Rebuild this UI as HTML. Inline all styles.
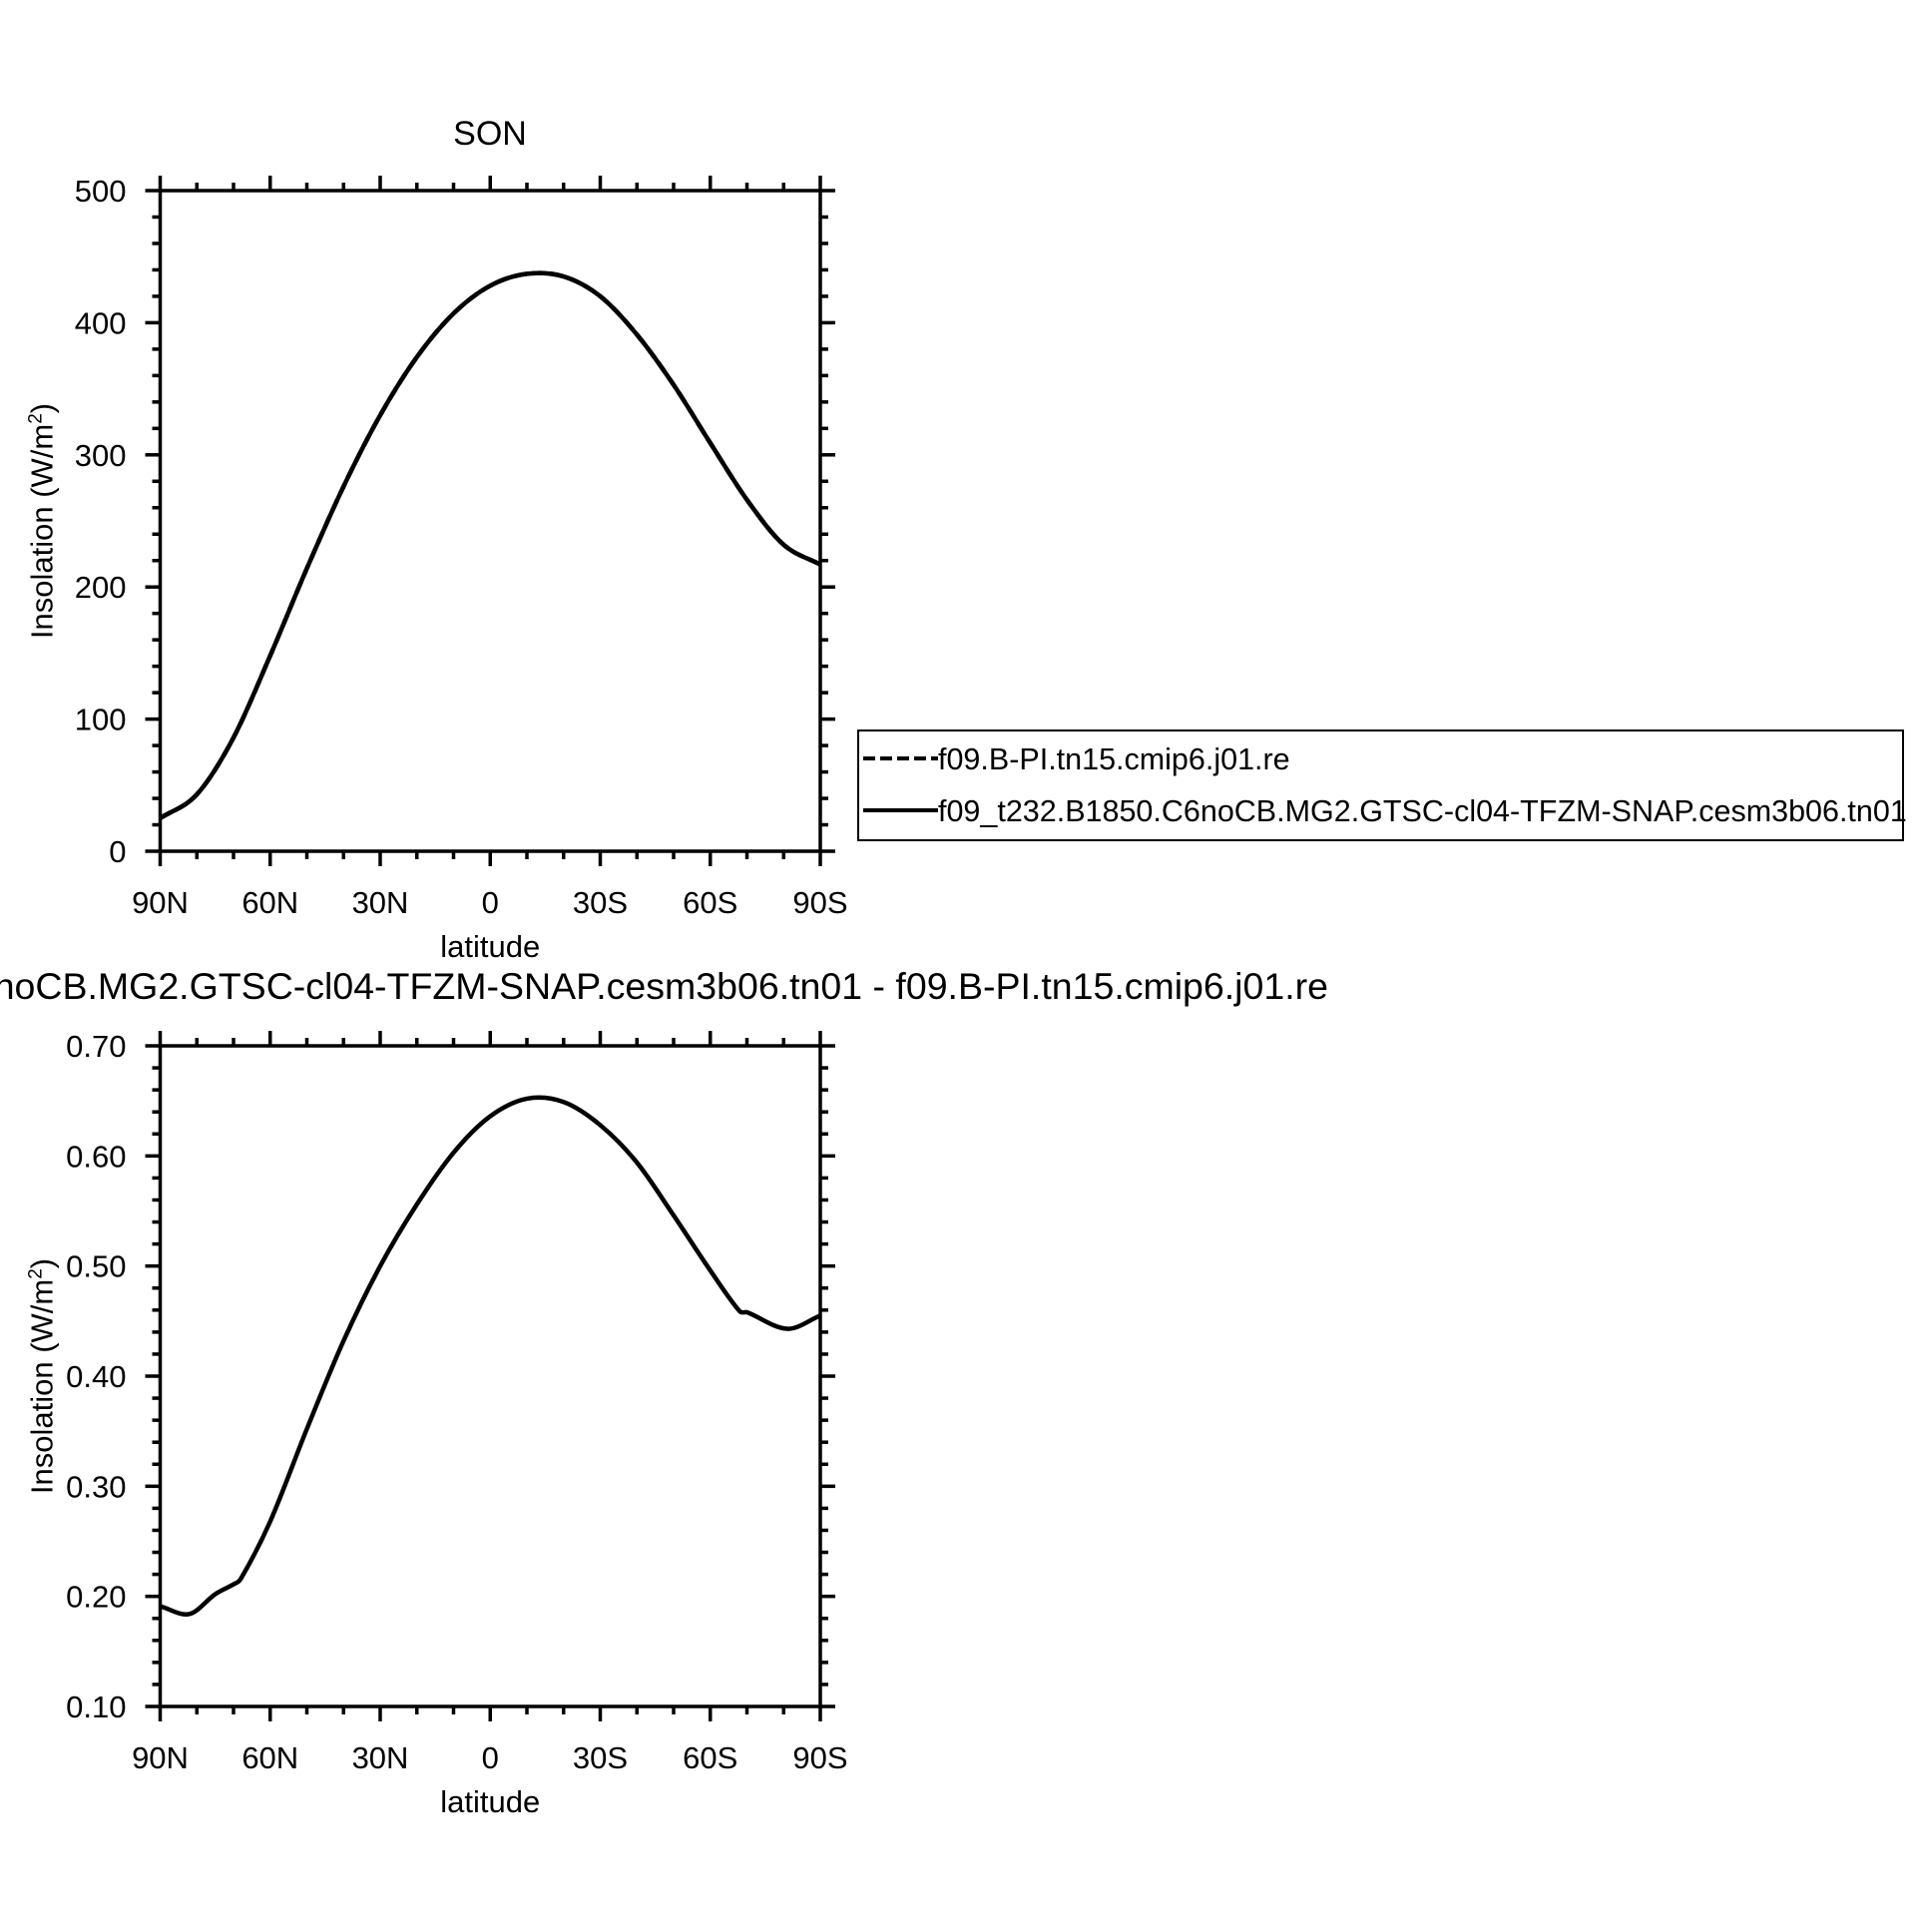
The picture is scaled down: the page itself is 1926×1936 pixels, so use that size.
<!DOCTYPE html>
<html><head><meta charset="utf-8"><style>
html,body{margin:0;padding:0;background:#fff;}
svg text{font-family:"Liberation Sans",sans-serif;fill:#000;}
</style></head><body>
<svg id="c" width="1926" height="1931" viewBox="0 0 1926 1931" xmlns="http://www.w3.org/2000/svg"></svg>
<script>
const lats=[90,80,70,60,50,40,30,20,10,0,-10,-20,-30,-40,-50,-60,-70,-80,-90];
const topVals=[25,43,86,148,214,276,330,374,407,428,437,435,420,391,353,309,266,232,217];
const botLats=[90,82,75,70,68,60,50,40,30,20,10,0,-10,-20,-30,-40,-50,-60,-68,-70,-81,-90];
const botVals=[0.191,0.184,0.202,0.211,0.216,0.268,0.352,0.432,0.500,0.556,0.603,0.636,0.652,0.649,0.628,0.594,0.546,0.496,0.459,0.458,0.443,0.455];
const xTickVals=[90,60,30,0,-30,-60,-90];
const xTickLabels=["90N","60N","30N","0","30S","60S","90S"];
const topTicks=[0,100,200,300,400,500];
const topTickLabels=["0","100","200","300","400","500"];
const botTicks=[0.1,0.2,0.3,0.4,0.5,0.6,0.7];
const botTickLabels=["0.10","0.20","0.30","0.40","0.50","0.60","0.70"];
const NS="http://www.w3.org/2000/svg";
const svg=document.getElementById('c');
function mk(tag,attrs,parent){const e=document.createElementNS(NS,tag);for(const k in attrs)e.setAttribute(k,attrs[k]);(parent||svg).appendChild(e);return e;}
function txt(s,x,y,size,anchor,parent){const t=mk('text',{x:x,y:y,'font-size':size,'text-anchor':anchor||'middle'},parent);t.textContent=s;return t;}
function smooth(pts){
  const n=pts.length,m=[];
  for(let i=0;i<n;i++){const a=pts[Math.max(0,i-1)],b=pts[Math.min(n-1,i+1)];m.push((b[1]-a[1])/(b[0]-a[0]));}
  let d='M'+pts[0][0]+','+pts[0][1];
  for(let i=0;i<n-1;i++){const p1=pts[i],p2=pts[i+1],dx=(p2[0]-p1[0])/3;
    d+=' C'+(p1[0]+dx)+','+(p1[1]+m[i]*dx)+' '+(p2[0]-dx)+','+(p2[1]-m[i+1]*dx)+' '+p2[0]+','+p2[1];}
  return d;}
function panel(name,top,ymin,ymax,ticks,tickLabels,minorStep,xs,ys,dashed){
  const L=160.5,R=822,T=top,B=top+662;
  const g=mk('g',{});
  
  
  const sx=v=>L+(90-v)/180*(R-L);
  const sy=v=>B-(v-ymin)/(ymax-ymin)*(B-T);
  const ax=mk('g',{stroke:'#000','stroke-width':3.5},g);
  
  
  mk('rect',{x:L,y:T,width:R-L,height:B-T,fill:'none'},ax);
  for(let v=90;v>=-90;v-=10){const x=sx(v);const maj=v%30===0;const l=maj?15:8;
    mk('line',{x1:x,y1:B,x2:x,y2:B+l},ax);mk('line',{x1:x,y1:T,x2:x,y2:T-l},ax);}
  const n=Math.round((ymax-ymin)/minorStep);
  for(let i=0;i<=n;i++){const v=ymin+i*minorStep;const y=sy(v);const maj=i%5===0;const l=maj?15:8;
    mk('line',{x1:L,y1:y,x2:L-l,y2:y},ax);mk('line',{x1:R,y1:y,x2:R+l,y2:y},ax);}
  xTickVals.forEach((v,i)=>{const t=txt(xTickLabels[i],sx(v),B+62,31,'middle',g);
    
    });
  ticks.forEach((v,i)=>{const t=txt(tickLabels[i],L-34,sy(v)+11,31,'end',g);
    
    });
  const xt=txt('latitude',(L+R)/2,B+106,31,'middle',g);
  
  
  const yt=mk('text',{x:0,y:0,'font-size':31,'text-anchor':'middle',transform:'translate('+(L-108)+','+((T+B)/2)+') rotate(-90)'},g);
  yt.innerHTML='Insolation (W/m<tspan dy="-11" font-size="19">2</tspan><tspan dy="11">)</tspan>';
  
  
  const pts=xs.map((v,i)=>[sx(v),sy(ys[i])]);
  if(dashed){const p=mk('path',{d:smooth(pts),fill:'none',stroke:'#000','stroke-width':4.5,'stroke-dasharray':'12 6'},g);
    
    }
  const p=mk('path',{d:smooth(pts),fill:'none',stroke:'#000','stroke-width':4.5},g);
  
  
}
const t1=txt('SON',491,145,34);


panel('top-panel',191,0,500,topTicks,topTickLabels,20,lats,topVals,true);
const t2=txt('f09_t232.B1850.C6noCB.MG2.GTSC-cl04-TFZM-SNAP.cesm3b06.tn01 - f09.B-PI.tn15.cmip6.j01.re',1331,1001,37.5,'end');


panel('bottom-panel',1048,0.1,0.7,botTicks,botTickLabels,0.02,botLats,botVals,false);
const lg=mk('g',{});


mk('rect',{x:860,y:732,width:1047,height:110,fill:'none',stroke:'#000','stroke-width':2},lg);
mk('line',{x1:865,y1:760,x2:940,y2:760,stroke:'#000','stroke-width':4,'stroke-dasharray':'12 5'},lg);
mk('line',{x1:865,y1:812,x2:940,y2:812,stroke:'#000','stroke-width':4},lg);
const l1=txt('f09.B-PI.tn15.cmip6.j01.re',940,771,30.5,'start',lg);


const l2=txt('f09_t232.B1850.C6noCB.MG2.GTSC-cl04-TFZM-SNAP.cesm3b06.tn01',940,823,30.5,'start',lg);


</script>
</body></html>
